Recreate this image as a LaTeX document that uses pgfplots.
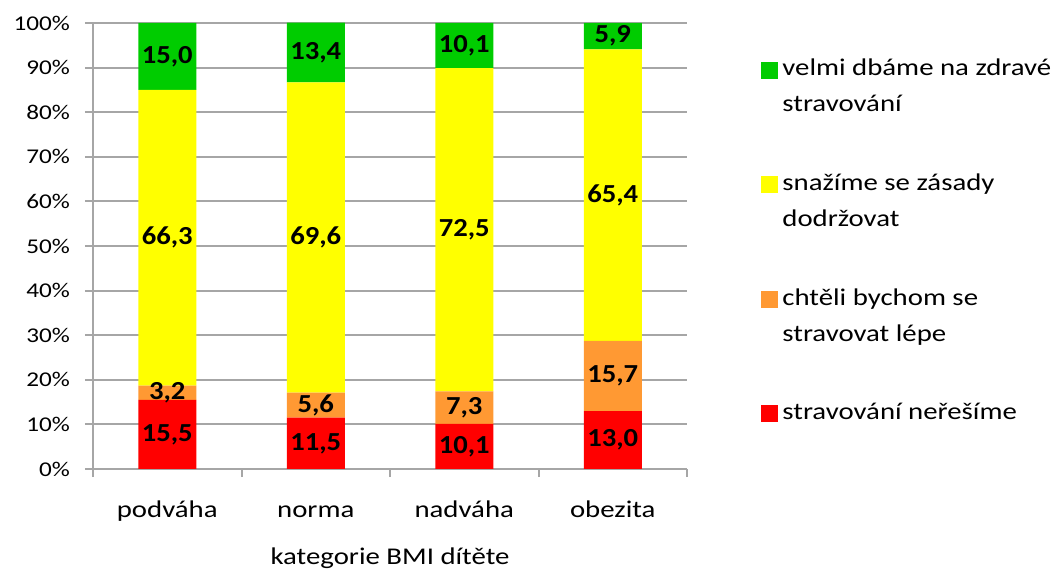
\documentclass[border=0pt]{standalone}
\usepackage{fontspec}
\setmainfont{Carlito}[FakeStretch=1.2]
\newfontfamily\labelfont{Carlito}[FakeStretch=1.1]
\usepackage{pgfplots}
\pgfplotsset{compat=1.18}

\definecolor{cgreen}{RGB}{0,204,0}
\definecolor{cyellow}{RGB}{255,255,0}
\definecolor{corange}{RGB}{255,153,51}
\definecolor{cred}{RGB}{255,0,0}
\definecolor{cgrid}{RGB}{166,166,166}

\begin{document}
\begin{tikzpicture}
\begin{axis}[
    name=ax,
    width=297pt, height=223pt,
    scale only axis,
    ybar stacked,
    bar width=29pt,
    xmin=-0.5, xmax=3.5,
    ymin=0, ymax=100,
    axis lines*=left,
    axis line style={cgrid, line width=1pt},
    tick align=outside,
    major tick length=4pt,
    tick style={cgrid, line width=1pt},
    xtick={-0.5,0.5,1.5,2.5,3.5},
    xticklabels={},
    extra x ticks={0,1,2,3},
    extra x tick labels={podváha,norma,nadváha,obezita},
    extra x tick style={major tick length=0pt,
        xticklabel style={anchor=base, yshift=-24pt}},
    ytick={0,10,...,100},
    yticklabel={\pgfmathprintnumber{\tick}\%},
    yticklabel style={font=\fontsize{10.5}{12}\selectfont, xshift=-4pt},
    ticklabel style={font=\fontsize{12}{14}\selectfont},
    /pgf/number format/assume math mode=true,
    ymajorgrids,
    grid style={cgrid, line width=1pt},
    xlabel={kategorie BMI dítěte},
    xlabel style={at={(axis description cs:0.5,-0.2152)}, anchor=base,
        font=\fontsize{12}{14}\selectfont},
    legend image code/.code={%
        \fill[#1] (0pt,4.25pt) rectangle (8.5pt,12.75pt);},
    reverse legend,
    legend style={at={(rel axis cs:1.1145,0.9375)}, anchor=north west, draw=none,
        font=\fontsize{12}{18}\selectfont,
        cells={anchor=west, align=left},
        row sep=25.5pt},
]
\addplot[fill=cred, draw=none] coordinates {(0,15.5) (1,11.5) (2,10.1) (3,13.0)};
\addplot[fill=corange, draw=none] coordinates {(0,3.2) (1,5.6) (2,7.3) (3,15.7)};
\addplot[fill=cyellow, draw=none] coordinates {(0,66.3) (1,69.6) (2,72.5) (3,65.4)};
\addplot[fill=cgreen, draw=none] coordinates {(0,15.0) (1,13.4) (2,10.1) (3,5.9)};
\legend{
    {stravování neřešíme\\\mbox{}},
    {chtěli bychom se\\stravovat lépe},
    {snažíme se zásady\\dodržovat},
    {velmi dbáme na zdravé\\stravování}}
\end{axis}
% data labels, centred in each segment
\begin{axis}[
    at={(ax.south west)}, anchor=south west,
    width=297pt, height=223pt,
    scale only axis,
    xmin=-0.5, xmax=3.5,
    ymin=0, ymax=100,
    hide axis,
    clip=false,
    point meta=explicit,
    nodes near coords={\pgfmathprintnumber[fixed,fixed zerofill,precision=1,use comma,assume math mode=true]{\pgfplotspointmeta}},
    nodes near coords style={font=\labelfont\bfseries\fontsize{13}{15}\selectfont,
        anchor=center, text=black, inner sep=0pt},
]
\addplot[draw=none, mark=none] coordinates {
    (0,7.75) [15.5] (1,5.75) [11.5] (2,5.05) [10.1] (3,6.5) [13.0]};
\addplot[draw=none, mark=none] coordinates {
    (0,17.1) [3.2] (1,14.3) [5.6] (2,13.75) [7.3] (3,20.85) [15.7]};
\addplot[draw=none, mark=none] coordinates {
    (0,51.85) [66.3] (1,51.9) [69.6] (2,53.65) [72.5] (3,61.4) [65.4]};
\addplot[draw=none, mark=none] coordinates {
    (0,92.5) [15.0] (1,93.4) [13.4] (2,94.95) [10.1] (3,97.05) [5.9]};
\end{axis}
\pgfresetboundingbox
\path ([shift={(-46.5pt,-51pt)}]ax.south west) rectangle ([shift={(187.5pt,11.5pt)}]ax.north east);
\end{tikzpicture}
\end{document}
